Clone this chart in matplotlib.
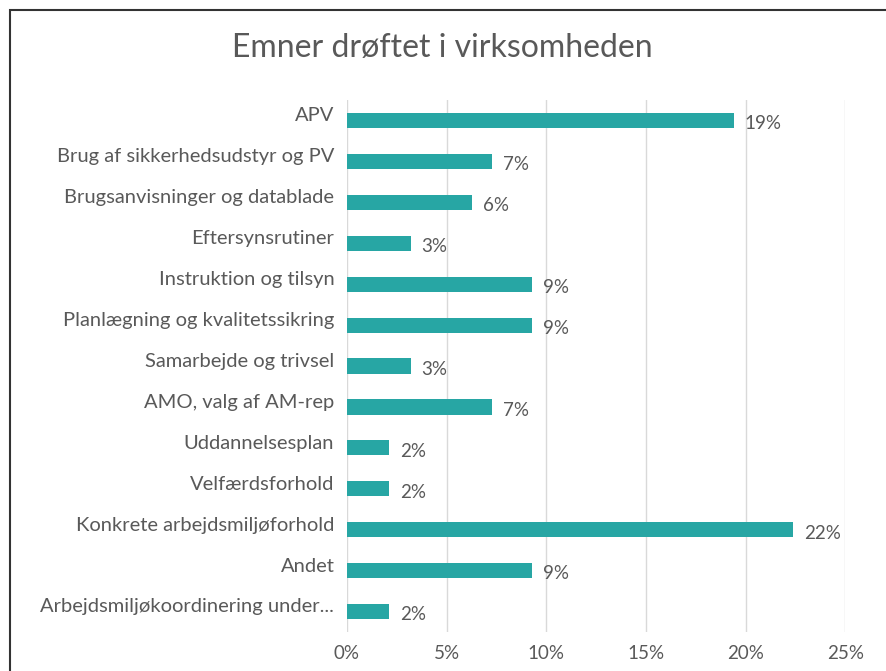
import matplotlib.pyplot as plt
from matplotlib.patches import Rectangle
from matplotlib.ticker import PercentFormatter

plt.rcParams['font.family'] = ['Lato', 'DejaVu Sans']

# data
emner = [
    "APV",
    "Brug af sikkerhedsudstyr og PV",
    "Brugsanvisninger og datablade",
    "Eftersynsrutiner",
    "Instruktion og tilsyn",
    "Planlægning og kvalitetssikring",
    "Samarbejde og trivsel",
    "AMO, valg af AM-rep",
    "Uddannelsesplan",
    "Velfærdsforhold",
    "Konkrete arbejdsmiljøforhold",
    "Andet",
    "Arbejdsmiljøkoordinering under...",
]
andel = [0.194, 0.073, 0.063, 0.032, 0.093, 0.093, 0.032,
         0.073, 0.021, 0.021, 0.224, 0.093, 0.021]
xticks = [0, 0.05, 0.10, 0.15, 0.20, 0.25]

teal = '#27A6A4'
grey = '#595959'

fig = plt.figure(figsize=(8.87, 6.71), dpi=100)
ax = fig.add_axes([0.391, 0.058, 0.562, 0.793])

ypos = list(range(len(emner)))
ax.barh(ypos, andel, height=0.37, color=teal, zorder=3)
for y, v in zip(ypos, andel):
    ax.text(v + 0.0055, y + 0.08, f"{round(v * 100)}%", va='center', ha='left',
            fontsize=13.5, color=grey)

ax.set_yticks([y - 0.15 for y in ypos])
ax.set_yticklabels(emner, fontsize=14.5, color=grey)
ax.set_ylim(len(emner) - 0.5, -0.5)
ax.set_xlim(0, 0.25)
ax.set_xticks(xticks)
ax.xaxis.set_major_formatter(PercentFormatter(1.0, decimals=0))
ax.tick_params(axis='x', labelsize=13.5, colors=grey, length=0, pad=9)
ax.tick_params(axis='y', length=0, pad=9)
ax.grid(axis='x', color='#D9D9D9', linewidth=1, zorder=0)
for s in ax.spines.values():
    s.set_visible(False)

fig.text(0.499, 0.928, "Emner drøftet i virksomheden", ha='center', va='center',
         fontsize=23, color=grey)

# frame around the chart
fig.patches.append(Rectangle((10 / 887, -0.1), 1.2, 1 - 10 / 671 + 0.1,
                             transform=fig.transFigure, fill=False,
                             edgecolor='#333333', linewidth=1.5))

fig.savefig('out.png', dpi=100)
